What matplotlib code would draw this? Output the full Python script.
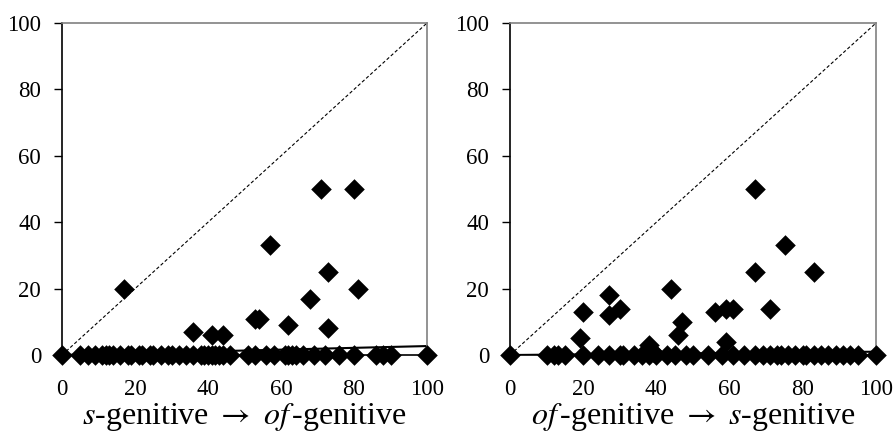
import matplotlib
matplotlib.use("Agg")
import matplotlib.pyplot as plt

plt.rcParams['font.family'] = ['Liberation Serif', 'DejaVu Serif']
plt.rcParams['mathtext.fontset'] = 'stix'

# Left panel: s-genitive -> of-genitive
left_x = [17, 36, 41, 44, 53, 54, 57, 62, 68, 71, 73, 73, 80, 81]
left_y = [20, 7, 6, 6, 11, 11, 33, 9, 17, 50, 25, 8, 50, 20]
left_zero_x = [0, 5, 7, 9, 11, 12, 13, 14, 16, 18, 19, 21, 22, 24, 25, 27, 29, 30,
               32, 34, 36, 38, 39, 40, 41, 42, 43, 44, 46, 51, 53, 56, 58, 61, 62,
               63, 64, 66, 69, 72, 76, 80, 86, 88, 90, 100]
left_trend = [0, 2.7]

# Right panel: of-genitive -> s-genitive
right_x = [67, 75, 67, 83, 44, 27, 20, 27, 30, 47, 46, 56, 59, 61, 71, 19, 38, 59, 39]
right_y = [50, 33, 25, 25, 20, 18, 13, 12, 14, 10, 6, 13, 14, 14, 14, 5, 3, 4, 1]
right_zero_x = [0, 10, 12, 13, 15, 20, 24, 27, 30, 31, 34, 36, 38, 40, 43, 45, 48,
                50, 54, 58, 61, 64, 67, 69, 71, 73, 74, 76, 78, 80, 81, 83, 85, 87,
                89, 91, 93, 95, 100]
right_trend = [0, 1.0]

labels = [r"$s$-genitive $\rightarrow$ $of\,$-genitive",
          r"$of\,$-genitive $\rightarrow$ $s$-genitive"]
ticks = [0, 20, 40, 60, 80, 100]

fig = plt.figure(figsize=(8.95, 4.37), dpi=100)
ax1 = fig.add_axes([0.0693, 0.1876, 0.4078, 0.7597])
ax2 = fig.add_axes([0.5698, 0.1876, 0.4090, 0.7597])

panels = [(ax1, left_x, left_y, left_zero_x, left_trend, labels[0]),
          (ax2, right_x, right_y, right_zero_x, right_trend, labels[1])]

for ax, xs, ys, zx, trend, lab in panels:
    ax.plot([0, 100], [0, 100], color='black', lw=0.8, ls=(0, (3, 2)), zorder=1)
    ax.plot([0, 100], trend, color='black', lw=1.5, zorder=2)
    ax.scatter(zx, [0] * len(zx), marker='D', s=110, color='black', zorder=3,
               clip_on=False, linewidths=0)
    ax.scatter(xs, ys, marker='D', s=110, color='black', zorder=3,
               clip_on=False, linewidths=0)
    ax.set_xlim(0, 100)
    ax.set_ylim(0, 100)
    ax.set_xticks(ticks)
    ax.set_yticks(ticks)
    ax.tick_params(axis='x', length=0, pad=17, labelsize=16.5)
    ax.tick_params(axis='y', length=6, width=1, pad=9, labelsize=16.5)
    ax.set_xlabel(lab, fontsize=23, labelpad=1)
    for side in ['top', 'right']:
        ax.spines[side].set_color('#808080')
        ax.spines[side].set_linewidth(1.2)
    ax.spines['left'].set_linewidth(1.2)
    ax.spines['bottom'].set_linewidth(1.2)

fig.savefig("out.png", dpi=100)
